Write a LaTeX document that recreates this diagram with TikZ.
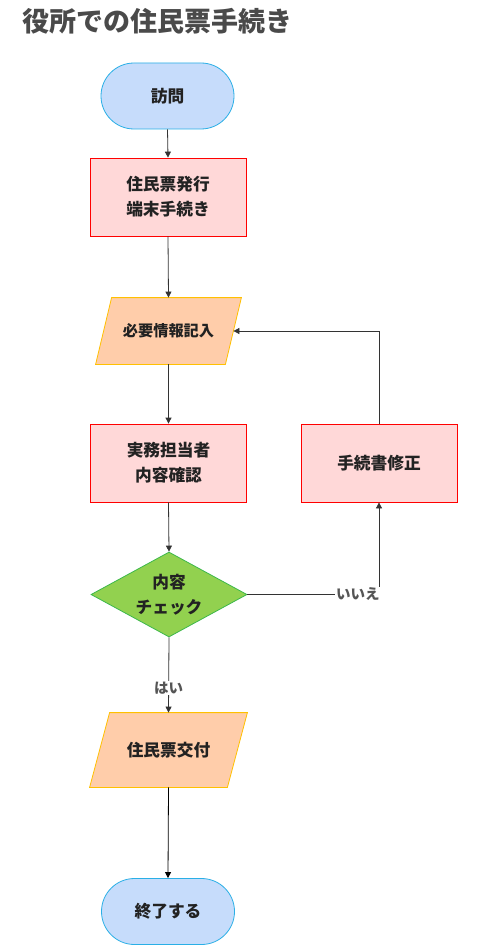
\documentclass[tikz,border=0pt]{standalone}
\usepackage{fontspec}
\setmainfont{Noto Sans CJK JP}
\usetikzlibrary{shapes.geometric,arrows.meta,calc,backgrounds}
\definecolor{termfill}{HTML}{C6DCFB}
\definecolor{termdraw}{HTML}{2AAFE6}
\definecolor{procfill}{HTML}{FFD8D8}
\definecolor{procdraw}{HTML}{FF0000}
\definecolor{iofill}{HTML}{FFCDAA}
\definecolor{iodraw}{HTML}{FFC000}
\definecolor{decfill}{HTML}{92D14F}
\definecolor{decdraw}{HTML}{3CB84A}
\definecolor{txt}{HTML}{222222}
\definecolor{lbl}{HTML}{555555}
\definecolor{ttl}{HTML}{4A4A4A}
\definecolor{edge}{HTML}{333333}
\tikzset{
  base/.style={font=\fontsize{16.7}{25}\selectfont\bfseries, text=txt, align=center, inner sep=0pt, line width=0.8pt},
  term/.style={base, draw=termdraw, fill=termfill, rounded corners=33pt, minimum width=133pt, minimum height=66pt},
  proc/.style={base, draw=procdraw, fill=procfill, minimum width=156pt, minimum height=78pt},
  io/.style={base},
  ioshape/.style={draw=iodraw, fill=iofill, line width=0.8pt},
  dec/.style={base, draw=decdraw, fill=decfill, diamond, aspect=1.835, minimum width=156pt, minimum height=85pt},
  conn/.style={draw=edge, line width=0.8pt, -{Triangle[length=6pt,width=6pt]}},
  elabel/.style={font=\fontsize{14.5}{16}\selectfont\bfseries, text=lbl, fill=white, inner sep=1pt}
}
\begin{document}
\begin{tikzpicture}[x=1pt,y=-1pt]
\begin{scope}[on background layer]
\path[use as bounding box, fill=white] (0,0) rectangle (477,947);
\end{scope}
\node[anchor=west, text=ttl, font=\fontsize{27}{30}\selectfont\bfseries, inner sep=0pt] (title) at (22,21) {役所での住民票手続き};
\node[term] (start) at (167.5,96) {訪問};
\node[proc] (p1) at (168,197) {住民票発行\\端末手続き};
\node[io, minimum width=145pt, minimum height=66pt, font=\fontsize{15.2}{20}\selectfont\bfseries] (io1) at (168.5,331) {必要情報記入};
\node[proc] (p2) at (168.5,463) {実務担当者\\内容確認};
\node[proc] (p3) at (379,463) {手続書修正};
\node[dec] (d) at (169,594.5) {内容\\チェック};
\node[io, minimum width=157pt, minimum height=74pt] (io2) at (168.5,750) {住民票交付};
\node[term] (end) at (168,911.5) {終了する};
\begin{scope}[on background layer]
\draw[ioshape] ($(io1.north west)+(16,0)$) -- (io1.north east) -- ($(io1.south east)+(-16,0)$) -- (io1.south west) -- cycle;
\draw[ioshape] ($(io2.north west)+(20,0)$) -- (io2.north east) -- ($(io2.south east)+(-20,0)$) -- (io2.south west) -- cycle;
\end{scope}
\coordinate (io1e) at ($(io1.east)+(-8,0)$);
\draw[conn] (start.south) -- (p1.north);
\draw[conn] (p1.south) -- (io1.north);
\draw[conn] (io1.south) -- (p2.north);
\draw[conn] (p2.south) -- (d.north);
\draw[conn] (d.east) -| node[elabel, pos=0.42] {いいえ} (p3.south);
\draw[conn] (p3.north) |- (io1e);
\draw[conn] (d.south) -- node[elabel, pos=0.67] {はい} (io2.north);
\draw[conn, draw=black] (io2.south) -- (end.north);
\end{tikzpicture}
\end{document}
